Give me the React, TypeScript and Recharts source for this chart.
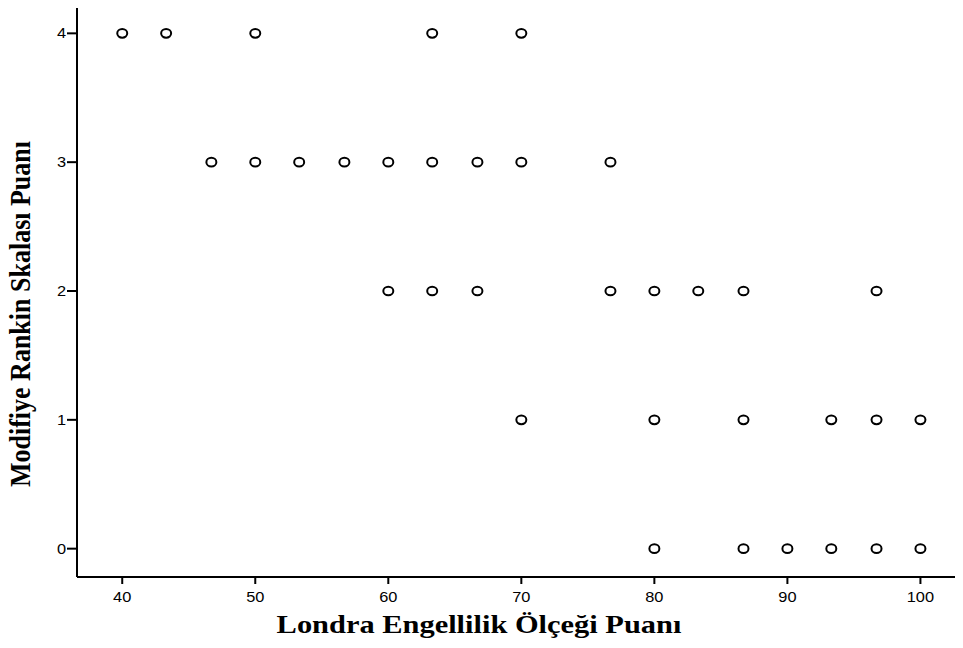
import { ScatterChart, Scatter, XAxis, YAxis } from "recharts"

// Londra Engellilik Ölçeği puanı (x) vs Modifiye Rankin Skalası (y)
const mrs4 = [40, 43.3, 50, 63.3, 70]
const mrs3 = [46.7, 50, 53.3, 56.7, 60, 63.3, 66.7, 70, 76.7]
const mrs2 = [60, 63.3, 66.7, 76.7, 80, 83.3, 86.7, 96.7]
const mrs1 = [70, 80, 86.7, 93.3, 96.7, 100]
const mrs0 = [80, 86.7, 90, 93.3, 96.7, 100]

const xTicks = [40, 50, 60, 70, 80, 90, 100]
const yTicks = [0, 1, 2, 3, 4]

const points = [
  ...mrs4.map((x) => ({ x, y: 4 })),
  ...mrs3.map((x) => ({ x, y: 3 })),
  ...mrs2.map((x) => ({ x, y: 2 })),
  ...mrs1.map((x) => ({ x, y: 1 })),
  ...mrs0.map((x) => ({ x, y: 0 })),
]

// the scan is a bit wide, so text gets stretched horizontally
const stretch = 1.17
const sans = "Liberation Sans, Arial, sans-serif"
const serif = "Liberation Serif, Times New Roman, serif"

const Ring = (props: any) => {
  const { cx, cy } = props
  return <ellipse cx={cx} cy={cy} rx={5} ry={4.3} fill="none" stroke="#000" strokeWidth={2} />
}

const XTick = (props: any) => {
  const { x, y, payload } = props
  return (
    <text
      x={x}
      y={y}
      dy="0.71em"
      textAnchor="middle"
      fontSize={14}
      fontFamily={sans}
      fill="#000"
      transform={`translate(${x},0) scale(${stretch},1) translate(${-x},0)`}
    >
      {payload.value}
    </text>
  )
}

const YTick = (props: any) => {
  const { x, y, payload } = props
  return (
    <text
      x={x}
      y={y}
      dy="0.355em"
      textAnchor="end"
      fontSize={14}
      fontFamily={sans}
      fill="#000"
      transform={`translate(${x},0) scale(${stretch},1) translate(${-x},0)`}
    >
      {payload.value}
    </text>
  )
}

export default function App() {
  return (
    <div style={{ margin: "-8px 0 0 -8px", width: 963, height: 648, background: "#fff", position: "relative", overflow: "hidden" }}>
      <ScatterChart width={963} height={648} margin={{ top: 5, right: 0, left: 0, bottom: 0 }}>
        <XAxis
          type="number"
          dataKey="x"
          domain={[36.6, 103.2]}
          ticks={xTicks}
          allowDataOverflow
          tick={<XTick />}
          tickSize={7}
          tickMargin={8}
          tickLine={{ stroke: "#000", strokeWidth: 2 }}
          axisLine={{ stroke: "#000", strokeWidth: 2 }}
          height={71}
        />
        <XAxis
          xAxisId="top"
          orientation="top"
          type="number"
          dataKey="x"
          domain={[36.6, 103.2]}
          tick={false}
          tickLine={false}
          axisLine={{ stroke: "#000", strokeWidth: 2 }}
          height={0}
        />
        <YAxis
          type="number"
          dataKey="y"
          domain={[-0.22, 4.22]}
          ticks={yTicks}
          allowDataOverflow
          tick={<YTick />}
          tickSize={10}
          tickMargin={1}
          tickLine={{ stroke: "#000", strokeWidth: 2 }}
          axisLine={{ stroke: "#000", strokeWidth: 2 }}
          width={77}
        />
        <Scatter data={points} shape={Ring} isAnimationActive={false} />
      </ScatterChart>
      <div
        style={{
          position: "absolute",
          left: 279,
          width: 400,
          top: 610,
          textAlign: "center",
          fontFamily: serif,
          fontWeight: "bold",
          fontSize: 26,
          lineHeight: "30px",
          whiteSpace: "nowrap",
          transform: `scaleX(${stretch})`,
        }}
      >
        Londra Engellilik Ölçeği Puanı
      </div>
      <div
        style={{
          position: "absolute",
          left: 21,
          top: 314,
          width: 400,
          marginLeft: -200,
          marginTop: -15,
          textAlign: "center",
          transform: `scaleX(${stretch}) rotate(-90deg)`,
          fontFamily: serif,
          fontWeight: "bold",
          fontSize: 26,
          lineHeight: "30px",
          whiteSpace: "nowrap",
        }}
      >
        Modifiye Rankin Skalası Puanı
      </div>
    </div>
  )
}
